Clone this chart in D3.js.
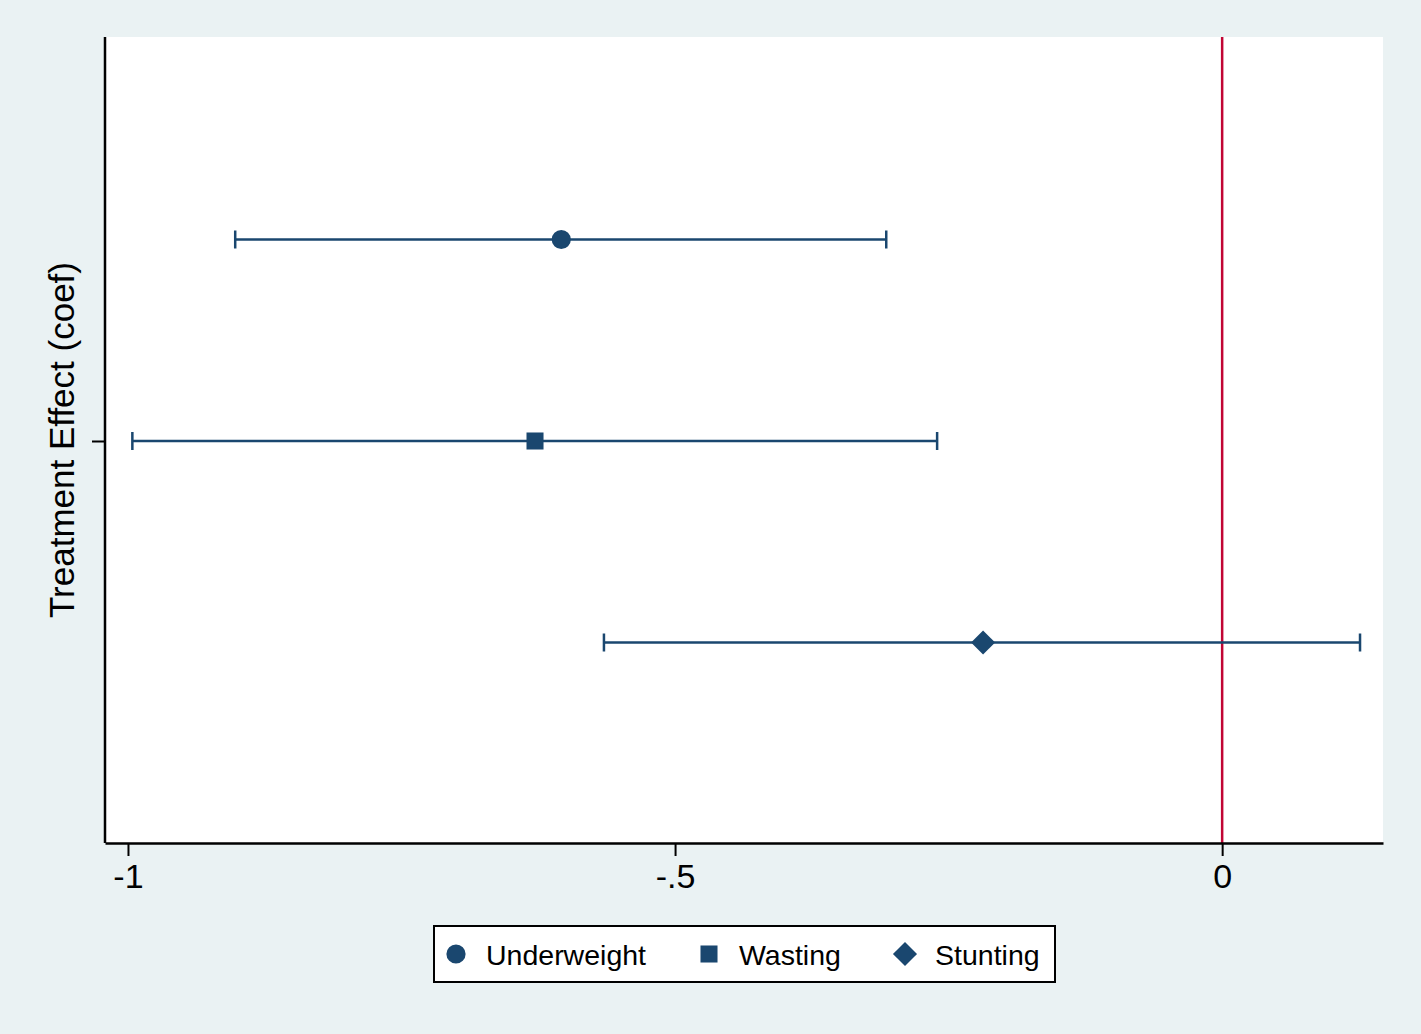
<!DOCTYPE html>
<html>
<head>
<meta charset="utf-8">
<script src="https://cdn.jsdelivr.net/npm/d3@7"></script>
<style>
body { margin: 0; background: #eaf2f3; }
svg { display: block; font-family: "Liberation Sans", Arial, sans-serif; }
</style>
</head>
<body>
<div id="chart"></div>
<script>
// outcomes, point estimates and 95% CI
var outcomes = ["Underweight", "Wasting", "Stunting"];
var coef = [-0.604, -0.628, -0.2185];
var lower = [-0.902, -0.996, -0.565];
var upper = [-0.307, -0.2605, 0.126];
var xTicks = [-1, -0.5, 0];
var xTickLabels = ["-1", "-.5", "0"];

var width = 1421;
var height = 1034;
var navy = "#1a476f";

// diamond = square turned 45 degrees
var symbols = [d3.symbolCircle, d3.symbolSquare, d3.symbolSquare];
var sizes = [290, 290, 290];
var rotate = [0, 0, 45];

var svg = d3.select("#chart")
    .append("svg")
    .attr("width", width)
    .attr("height", height);

svg.append("rect")
    .attr("width", width)
    .attr("height", height)
    .attr("fill", "#eaf2f3");

var pLeft = 105, pRight = 1383, pTop = 37, pBottom = 843;

var scalex = d3.scaleLinear()
    .domain([-1.021, 0.147])
    .range([pLeft, pRight]);

// y positions: 3 rows, tick in the middle
var scaley = d3.scaleLinear()
    .domain([0, 4])
    .range([pTop + 1, pBottom + 1]);

svg.append("rect")
    .attr("x", pLeft)
    .attr("y", pTop)
    .attr("width", pRight - pLeft)
    .attr("height", pBottom - pTop)
    .attr("fill", "white");

// zero line
svg.append("line")
    .attr("x1", scalex(0))
    .attr("x2", scalex(0))
    .attr("y1", pTop)
    .attr("y2", pBottom)
    .attr("stroke", "#c10534")
    .attr("stroke-width", 2.5);

var rows = svg.selectAll("g.row")
    .data(outcomes)
    .enter()
    .append("g")
    .attr("class", "row")
    .attr("transform", (d, i) => "translate(0," + scaley(i + 1) + ")");

rows.append("line")
    .attr("x1", (d, i) => scalex(lower[i]))
    .attr("x2", (d, i) => scalex(upper[i]))
    .attr("stroke", navy)
    .attr("stroke-width", 2.5);

rows.append("line")
    .attr("x1", (d, i) => scalex(lower[i]))
    .attr("x2", (d, i) => scalex(lower[i]))
    .attr("y1", -9).attr("y2", 9)
    .attr("stroke", navy)
    .attr("stroke-width", 2.5);

rows.append("line")
    .attr("x1", (d, i) => scalex(upper[i]))
    .attr("x2", (d, i) => scalex(upper[i]))
    .attr("y1", -9).attr("y2", 9)
    .attr("stroke", navy)
    .attr("stroke-width", 2.5);

rows.append("path")
    .attr("transform", (d, i) => "translate(" + scalex(coef[i]) + ",0) rotate(" + rotate[i] + ")")
    .attr("d", (d, i) => d3.symbol().type(symbols[i]).size(sizes[i])())
    .attr("fill", navy);

// axes
var Xaxis = d3.axisBottom(scalex)
    .tickValues(xTicks)
    .tickFormat((d, i) => xTickLabels[i])
    .tickSize(13)
    .tickPadding(8)
    .tickSizeOuter(0);

var gx = svg.append("g")
    .attr("transform", "translate(0," + pBottom + ")")
    .call(Xaxis);
gx.select(".domain").attr("stroke", "black").attr("stroke-width", 2.5);
gx.selectAll(".tick line").attr("stroke", "black").attr("stroke-width", 2);
gx.selectAll(".tick text").attr("font-size", 34).attr("fill", "black")
    .attr("font-family", "Liberation Sans, Arial, sans-serif");

var Yaxis = d3.axisLeft(scaley)
    .tickValues([2])
    .tickFormat("")
    .tickSize(13)
    .tickSizeOuter(0);

var gy = svg.append("g")
    .attr("transform", "translate(" + pLeft + ",0)")
    .call(Yaxis);
gy.select(".domain").attr("stroke", "black").attr("stroke-width", 2.5)
    .attr("d", "M0," + pTop + "V" + pBottom);
gy.selectAll(".tick line").attr("stroke", "black").attr("stroke-width", 2);

svg.append("text")
    .attr("transform", "translate(74,440) rotate(-90)")
    .attr("text-anchor", "middle")
    .attr("font-size", 35)
    .attr("fill", "black")
    .text("Treatment Effect (coef)");

// legend
svg.append("rect")
    .attr("x", 434)
    .attr("y", 926)
    .attr("width", 621)
    .attr("height", 56)
    .attr("fill", "white")
    .attr("stroke", "black")
    .attr("stroke-width", 2);

var legX = [456, 709, 905];
var leg = svg.selectAll("g.leg")
    .data(outcomes)
    .enter()
    .append("g")
    .attr("class", "leg")
    .attr("transform", (d, i) => "translate(" + legX[i] + ",954)");

leg.append("path")
    .attr("transform", (d, i) => "rotate(" + rotate[i] + ")")
    .attr("d", (d, i) => d3.symbol().type(symbols[i]).size(sizes[i])())
    .attr("fill", navy);

leg.append("text")
    .attr("x", 30)
    .attr("y", 11)
    .attr("font-size", 28.5)
    .attr("fill", "black")
    .text(d => d);
</script>
</body>
</html>
